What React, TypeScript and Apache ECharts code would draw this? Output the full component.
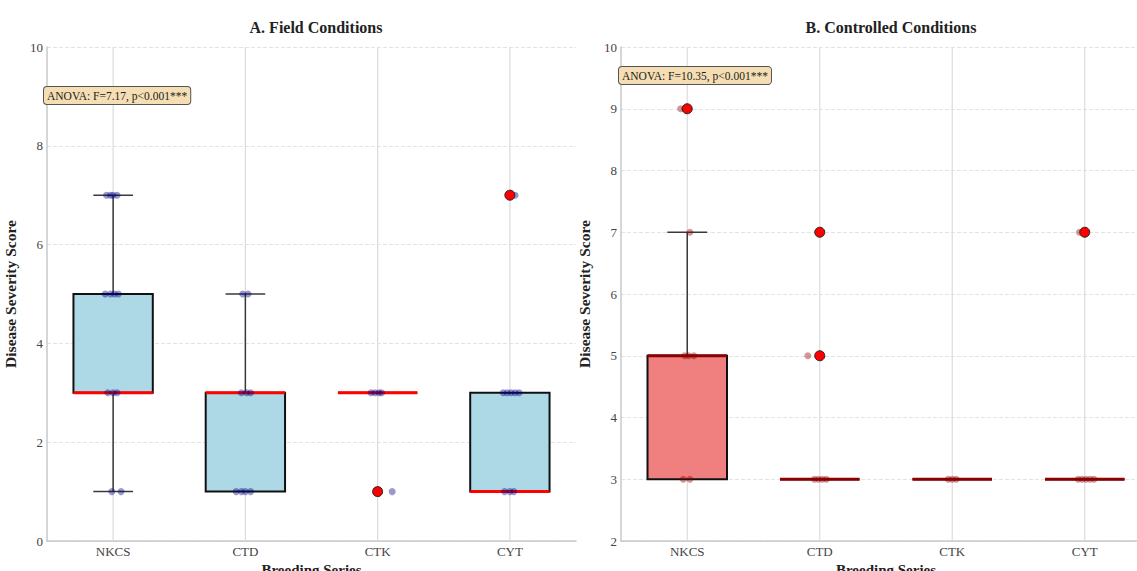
import React, { useEffect, useRef } from "react";
import * as echarts from "echarts";

const categories = ["NKCS", "CTD", "CTK", "CYT"];

// [min, Q1, median, Q3, max] per category
const fieldBoxStats = [
  [1, 3, 3, 5, 7],
  [1, 1, 3, 3, 5],
  [3, 3, 3, 3, 3],
  [1, 1, 1, 3, 3],
];
const controlledBoxStats = [
  [3, 3, 5, 5, 7],
  [3, 3, 3, 3, 3],
  [3, 3, 3, 3, 3],
  [3, 3, 3, 3, 3],
];

// outliers: [categoryIndex, value]
const fieldOutliers = [
  [2, 1],
  [3, 7],
];
const controlledOutliers = [
  [0, 9],
  [1, 7],
  [1, 5],
  [3, 7],
];

// individual observations: [categoryIndex, value]
const fieldPoints = [
  [0, 7], [0, 7], [0, 7], [0, 7], [0, 5], [0, 5], [0, 5], [0, 5], [0, 3], [0, 3], [0, 3], [0, 1], [0, 1],
  [1, 5], [1, 5], [1, 3], [1, 3], [1, 3], [1, 1], [1, 1], [1, 1], [1, 1],
  [2, 3], [2, 3], [2, 3], [2, 3], [2, 1],
  [3, 7], [3, 3], [3, 3], [3, 3], [3, 3], [3, 3], [3, 1], [3, 1], [3, 1],
];
const fieldJitter = [
  -0.05, -0.02, 0.0, 0.03, -0.06, -0.02, 0.01, 0.04, -0.04, 0.0, 0.03, -0.01, 0.06,
  -0.02, 0.02, -0.03, 0.01, 0.04, -0.07, -0.03, 0.0, 0.04,
  -0.05, -0.02, 0.01, 0.03, 0.11,
  0.04, -0.05, -0.02, 0.01, 0.04, 0.07, -0.04, 0.0, 0.03,
];
const controlledPoints = [
  [0, 9], [0, 9], [0, 7], [0, 5], [0, 5], [0, 5], [0, 3], [0, 3],
  [1, 7], [1, 5], [1, 3], [1, 3], [1, 3], [1, 3],
  [2, 3], [2, 3], [2, 3],
  [3, 7], [3, 3], [3, 3], [3, 3], [3, 3], [3, 3],
];
const controlledJitter = [
  -0.05, -0.02, 0.02, -0.02, 0.01, 0.05, -0.03, 0.02,
  0.0, -0.09, -0.04, -0.01, 0.02, 0.05,
  -0.03, 0.0, 0.03,
  -0.04, -0.05, -0.02, 0.01, 0.04, 0.07,
];

const FONT = "Liberation Serif";

function boxRenderer(fill: string, medianColor: string) {
  return (params: any, api: any) => {
    const idx = api.value(0);
    const lo = api.value(1);
    const q1 = api.value(2);
    const med = api.value(3);
    const q3 = api.value(4);
    const hi = api.value(5);
    const c = (v: number) => api.coord([idx, v]);
    const bw = api.size([1, 0])[0];
    const boxW = bw * 0.6;
    const capW = boxW * 0.5;
    const cx = c(med)[0];
    const yLo = c(lo)[1];
    const yQ1 = c(q1)[1];
    const yMed = c(med)[1];
    const yQ3 = c(q3)[1];
    const yHi = c(hi)[1];
    const wStyle = { stroke: "#3a3a3a", lineWidth: 1.5 };
    const children: any[] = [];
    if (hi > q3) {
      children.push({ type: "line", shape: { x1: cx, y1: yQ3, x2: cx, y2: yHi }, style: wStyle });
      children.push({ type: "line", shape: { x1: cx - capW / 2, y1: yHi, x2: cx + capW / 2, y2: yHi }, style: wStyle });
    }
    if (lo < q1) {
      children.push({ type: "line", shape: { x1: cx, y1: yQ1, x2: cx, y2: yLo }, style: wStyle });
      children.push({ type: "line", shape: { x1: cx - capW / 2, y1: yLo, x2: cx + capW / 2, y2: yLo }, style: wStyle });
    }
    children.push({
      type: "rect",
      shape: { x: cx - boxW / 2, y: yQ3, width: boxW, height: yQ1 - yQ3 },
      style: { fill, stroke: "#111", lineWidth: 2 },
    });
    children.push({
      type: "line",
      shape: { x1: cx - boxW / 2, y1: yMed, x2: cx + boxW / 2, y2: yMed },
      style: { stroke: medianColor, lineWidth: 3 },
    });
    return { type: "group", children };
  };
}

function jitterRenderer(color: string) {
  return (params: any, api: any) => {
    const idx = api.value(0);
    const v = api.value(1);
    const j = api.value(2);
    const p = api.coord([idx, v]);
    const bw = api.size([1, 0])[0];
    return {
      type: "circle",
      shape: { cx: p[0] + j * bw, cy: p[1], r: 3.5 },
      style: { fill: color },
    };
  };
}

function vGridRenderer(params: any, api: any) {
  const idx = api.value(0);
  const p = api.coord([idx, api.value(1)]);
  const cs = params.coordSys;
  return {
    type: "line",
    shape: { x1: p[0], y1: cs.y, x2: p[0], y2: cs.y + cs.height },
    style: { stroke: "#dcdcdc", lineWidth: 1.2 },
  };
}

export default function App() {
  const ref = useRef<HTMLDivElement>(null);
  useEffect(() => {
    if (!ref.current) return;
    const chart = echarts.init(ref.current, undefined, { renderer: "svg" });

    const xAxisBase = (gridIndex: number) => ({
      type: "category",
      gridIndex,
      data: categories,
      boundaryGap: true,
      axisLine: { show: true, lineStyle: { color: "#c8c8c8", width: 1.5 } },
      axisTick: { show: false },
      axisLabel: { color: "#444", fontSize: 13, fontFamily: FONT, margin: 4 },
      splitLine: { show: false },
      name: "Breeding Series",
      nameLocation: "middle",
      nameGap: 19,
      nameTextStyle: { color: "#222", fontSize: 15, fontWeight: "bold", fontFamily: FONT },
    });
    const yAxisBase = (gridIndex: number, min: number, max: number, interval: number) => ({
      type: "value",
      gridIndex,
      min,
      max,
      interval,
      axisLine: { show: true, lineStyle: { color: "#c8c8c8", width: 1.5 } },
      axisTick: { show: false },
      axisLabel: { color: "#444", fontSize: 13, fontFamily: FONT, margin: 4 },
      splitLine: { show: true, lineStyle: { color: "#e3e3e3", type: "dashed", width: 1 } },
      name: "Disease Severity Score",
      nameLocation: "middle",
      nameGap: 29,
      nameTextStyle: { color: "#222", fontSize: 15.5, fontWeight: "bold", fontFamily: FONT },
    });

    const gridData = (min: number) => categories.map((_, i) => [i, min]);

    const annotStyle = {
      fontFamily: FONT,
      fontSize: 11.5,
      fill: "#222",
      backgroundColor: "#F5DEB3",
      borderColor: "#555",
      borderWidth: 1,
      borderRadius: 3,
      padding: [3, 3, 2, 3],
    };

    const option: any = {
      animation: false,
      backgroundColor: "#fff",
      title: [
        {
          text: "A. Field Conditions",
          left: 311,
          top: 14,
          textAlign: "center",
          textStyle: { fontFamily: FONT, fontSize: 16, fontWeight: "bold", color: "#222" },
        },
        {
          text: "B. Controlled Conditions",
          left: 886,
          top: 14,
          textAlign: "center",
          textStyle: { fontFamily: FONT, fontSize: 16, fontWeight: "bold", color: "#222" },
        },
      ],
      grid: [
        { left: 47, top: 47, width: 529, bottom: 30, outerBoundsMode: "none", containLabel: false },
        { left: 621, top: 47, width: 530, bottom: 30, outerBoundsMode: "none", containLabel: false },
      ],
      xAxis: [xAxisBase(0), xAxisBase(1)],
      yAxis: [yAxisBase(0, 0, 10, 2), yAxisBase(1, 2, 10, 1)],
      graphic: [
        {
          type: "text",
          left: 43,
          top: 86,
          style: { ...annotStyle, text: "ANOVA: F=7.17, p<0.001***" },
          z: 100,
        },
        {
          type: "text",
          left: 618,
          top: 66,
          style: { ...annotStyle, text: "ANOVA: F=10.35, p<0.001***" },
          z: 100,
        },
      ],
      series: [
        {
          type: "custom",
          xAxisIndex: 0,
          yAxisIndex: 0,
          z: 1,
          silent: true,
          renderItem: vGridRenderer,
          encode: { x: 0, y: 1 },
          data: gridData(0),
        },
        {
          type: "custom",
          xAxisIndex: 1,
          yAxisIndex: 1,
          z: 1,
          silent: true,
          renderItem: vGridRenderer,
          encode: { x: 0, y: 1 },
          data: gridData(2),
        },
        {
          type: "custom",
          xAxisIndex: 0,
          yAxisIndex: 0,
          z: 2,
          renderItem: boxRenderer("#ADD8E6", "#FF0000"),
          encode: { x: 0, y: [1, 2, 3, 4, 5] },
          data: fieldBoxStats.map((s, i) => [i, ...s]),
        },
        {
          type: "custom",
          xAxisIndex: 1,
          yAxisIndex: 1,
          z: 2,
          renderItem: boxRenderer("#F08080", "#8B0000"),
          encode: { x: 0, y: [1, 2, 3, 4, 5] },
          data: controlledBoxStats.map((s, i) => [i, ...s]),
        },
        {
          type: "custom",
          xAxisIndex: 0,
          yAxisIndex: 0,
          z: 3,
          renderItem: jitterRenderer("rgba(0,0,128,0.4)"),
          encode: { x: 0, y: 1 },
          data: fieldPoints.map((p, k) => [p[0], p[1], fieldJitter[k]]),
        },
        {
          type: "custom",
          xAxisIndex: 1,
          yAxisIndex: 1,
          z: 3,
          renderItem: jitterRenderer("rgba(139,0,0,0.4)"),
          encode: { x: 0, y: 1 },
          data: controlledPoints.map((p, k) => [p[0], p[1], controlledJitter[k]]),
        },
        {
          type: "scatter",
          xAxisIndex: 0,
          yAxisIndex: 0,
          z: 4,
          symbolSize: 10,
          itemStyle: { color: "#FF0000", borderColor: "#222", borderWidth: 1, opacity: 1 },
          data: fieldOutliers,
        },
        {
          type: "scatter",
          xAxisIndex: 1,
          yAxisIndex: 1,
          z: 4,
          symbolSize: 10,
          itemStyle: { color: "#FF0000", borderColor: "#222", borderWidth: 1, opacity: 1 },
          data: controlledOutliers,
        },
      ],
    };
    chart.setOption(option);
    return () => chart.dispose();
  }, []);
  return <div ref={ref} style={{ width: 1137, height: 571, position: "absolute", left: 0, top: 0 }} />;
}
